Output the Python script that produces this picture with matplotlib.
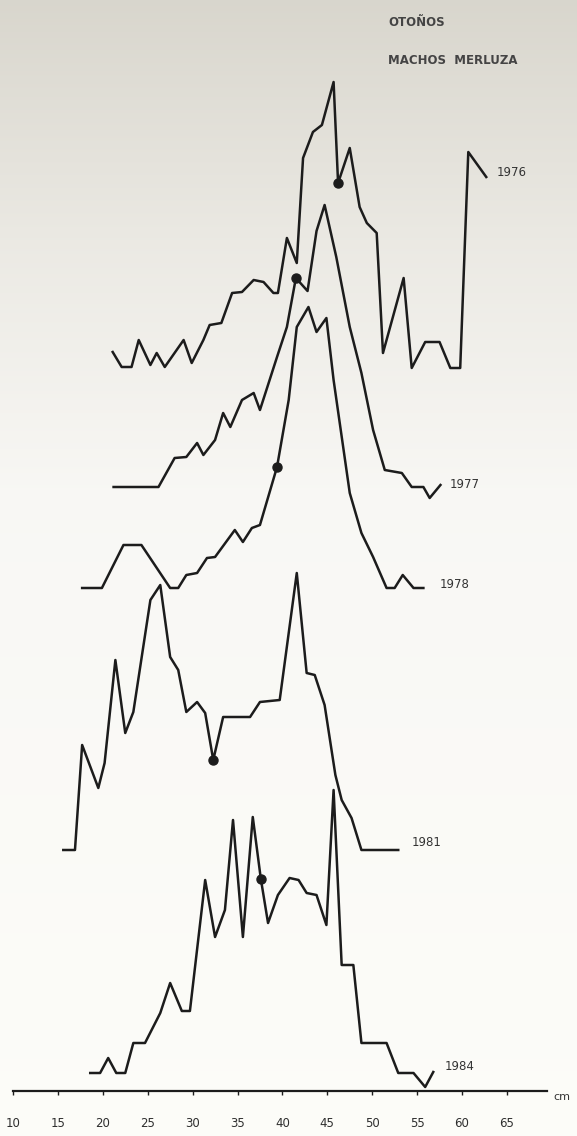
import matplotlib
matplotlib.use("Agg")
import matplotlib.pyplot as plt
import numpy as np

# talla (cm) y frecuencia relativa de cada muestreo de otoño
years = ["1976", "1977", "1978", "1981", "1984"]

len_1976 = [21.1, 22.1, 23.2, 24.0, 25.3, 26.0, 26.9, 29.0, 29.9, 31.2, 31.9, 33.2, 34.4,
            35.5, 36.8, 37.9, 39.0, 39.5, 40.5, 41.6, 42.3, 43.4, 44.4, 45.7, 46.2, 47.5,
            48.6, 49.4, 50.5, 51.2, 53.5, 54.4, 55.9, 57.5, 58.7, 59.8, 60.7, 62.7]
frq_1976 = [16, 1, 1, 28, 3, 15, 1, 28, 5, 28, 43, 45, 75,
            76, 88, 86, 75, 75, 130, 105, 210, 236, 243, 286, 185, 220,
            161, 145, 135, 15, 90, 0, 26, 26, 0, 0, 216, 191]

len_1977 = [21.2, 26.2, 28.0, 29.3, 30.5, 31.2, 32.5, 33.4, 34.2, 35.5, 36.8, 37.5, 39.4,
            40.5, 41.5, 42.8, 43.8, 44.7, 46.0, 47.5, 48.8, 50.1, 51.4, 53.3, 54.4, 55.7,
            56.4, 57.6]
frq_1977 = [11, 11, 40, 41, 55, 43, 58, 85, 71, 98, 105, 88, 141,
            171, 220, 207, 267, 293, 241, 171, 125, 68, 28, 25, 11, 11,
            0, 13]

len_1978 = [17.7, 19.9, 22.3, 24.3, 27.5, 28.4, 29.3, 30.5, 31.6, 32.5, 34.7, 35.6, 36.6,
            37.5, 39.4, 40.7, 41.6, 42.9, 43.8, 44.9, 45.7, 47.5, 48.8, 50.1, 51.6, 52.5,
            53.4, 54.6, 55.7]
frq_1978 = [0, 0, 43, 43, 0, 0, 13, 15, 30, 31, 58, 46, 60,
            63, 121, 188, 261, 281, 256, 270, 208, 95, 55, 31, 0, 0,
            13, 0, 0]

len_1981 = [15.6, 16.9, 17.7, 19.5, 20.2, 21.4, 22.5, 23.4, 25.3, 26.4, 27.5, 28.4, 29.3,
            30.5, 31.4, 32.3, 33.4, 36.4, 37.5, 39.7, 41.6, 42.7, 43.6, 44.7, 45.9, 46.6,
            47.7, 48.8, 52.9]
frq_1981 = [0, 0, 105, 62, 87, 190, 117, 138, 250, 265, 193, 180, 138,
            148, 137, 90, 133, 133, 148, 150, 277, 177, 175, 145, 75, 50,
            32, 0, 0]

len_1984 = [18.6, 19.7, 20.6, 21.5, 22.5, 23.4, 24.7, 26.4, 27.5, 28.8, 29.7, 31.4, 32.5,
            33.6, 34.5, 35.6, 36.7, 37.6, 38.4, 39.5, 40.8, 41.8, 42.7, 43.8, 44.9, 45.7,
            46.6, 47.9, 48.8, 51.6, 52.9, 54.6, 55.9, 56.8]
frq_1984 = [14, 14, 29, 14, 14, 44, 44, 74, 104, 76, 76, 207, 150,
            177, 267, 150, 270, 208, 164, 192, 209, 207, 194, 192, 162, 297,
            122, 122, 44, 44, 14, 14, 0, 15]

# talla media marcada con un punto
mean_len = [46.2, 41.5, 39.4, 32.3, 37.6]

# desplazamiento vertical de cada curva
offsets = [723, 593, 503, 241, 4]

lengths = [len_1976, len_1977, len_1978, len_1981, len_1984]
freqs = [frq_1976, frq_1977, frq_1978, frq_1981, frq_1984]

ticks = [10, 15, 20, 25, 30, 35, 40, 45, 50, 55, 60, 65]

W, H = 577, 1136
fig = plt.figure(figsize=(W / 100, H / 100), dpi=100)
ax = fig.add_axes([0, 0, 1, 1])

x0, x1 = 8.552, 72.806
y0, y1 = -45, 1091
ax.set_xlim(x0, x1)
ax.set_ylim(y0, y1)

# papel amarillento, mas oscuro arriba
rows = np.linspace(0, H, 200)
r = np.interp(rows, [0, 250, 500, H], [0.85, 0.925, 0.975, 0.99])
g = np.interp(rows, [0, 250, 500, H], [0.84, 0.918, 0.972, 0.99])
b = np.interp(rows, [0, 250, 500, H], [0.805, 0.895, 0.96, 0.975])
bg = np.dstack([r, g, b]).reshape(-1, 1, 3)
ax.imshow(bg, extent=[x0, x1, y0, y1], aspect="auto", zorder=0, interpolation="bilinear")

ink = "#1c1c1c"
lab_dx = [1.2, 1.0, 1.8, 1.5, 1.3]
lab_dy = [5, 0, 4, 8, 5]
for i, yr in enumerate(years):
    x = np.array(lengths[i])
    y = np.array(freqs[i]) + offsets[i]
    ax.plot(x, y, color=ink, lw=1.8, solid_joinstyle="round", zorder=3)
    ym = np.interp(mean_len[i], x, y)
    ax.plot(mean_len[i], ym, "o", color=ink, ms=6.5, zorder=4)
    ax.text(x[-1] + lab_dx[i], y[-1] + lab_dy[i], yr, fontsize=8.5, color="#333333",
            ha="left", va="center")

# eje de tallas
for s in ["top", "right", "left"]:
    ax.spines[s].set_visible(False)
ax.spines["bottom"].set_position(("data", 0))
ax.spines["bottom"].set_bounds(10, 69.5)
ax.spines["bottom"].set_linewidth(1.6)
ax.spines["bottom"].set_color(ink)
ax.set_xticks(ticks)
ax.set_xticklabels([str(t) for t in ticks])
ax.tick_params(axis="x", direction="out", length=3, width=1, color=ink,
               labelsize=8.5, labelcolor="#2e2e2e", pad=16)
ax.set_yticks([])
ax.text(71.1, -6, "cm", fontsize=8, color="#333333", ha="center", va="center")

ax.text(51.8, 1069, "OTOÑOS", fontsize=8.5, color="#444444", weight="bold",
        family="Liberation Sans Narrow", ha="left", va="center")
ax.text(51.8, 1030, "MACHOS  MERLUZA", fontsize=8.5, color="#444444", weight="bold",
        family="Liberation Sans Narrow", ha="left", va="center")

fig.savefig("out.png", dpi=100)
